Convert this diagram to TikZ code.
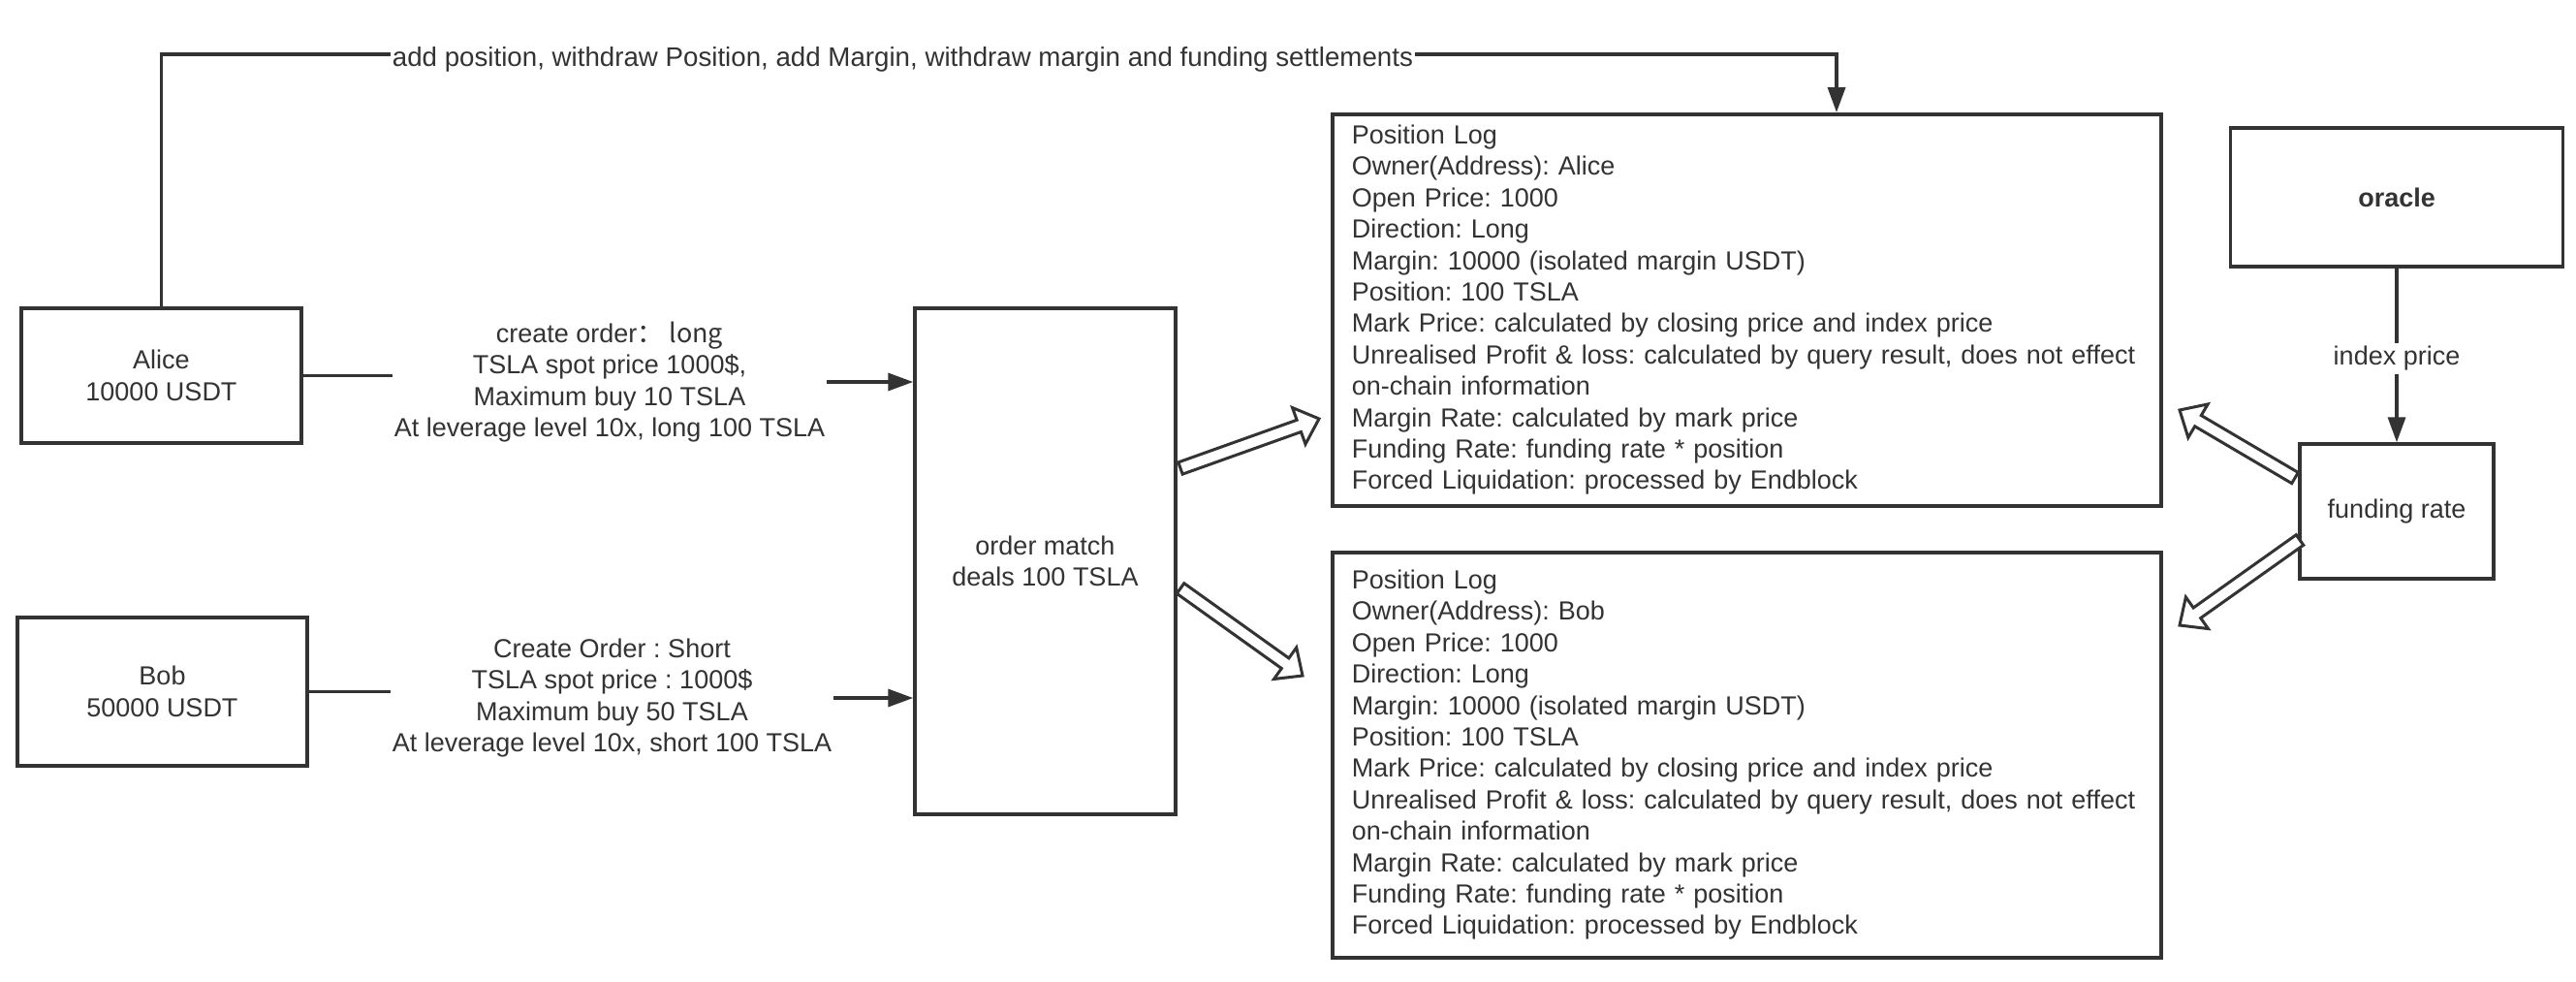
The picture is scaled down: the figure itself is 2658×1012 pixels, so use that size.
\documentclass[tikz,border=0pt]{standalone}
\usepackage{fontspec}
\setmainfont{Liberation Sans}
\newfontfamily\cjk{Noto Sans CJK SC}
\usetikzlibrary{arrows.meta,calc}
\definecolor{ink}{HTML}{333333}
\newcommand\dfont{\fontsize{27}{32.4}\selectfont}
\newcommand\flexarrow[2]{%
  \coordinate (fn) at ($(#2)!22pt!(#1)$);
  \draw[hollow] ($(#1)!6.5pt!90:(#2)$) -- ($(fn)!6.5pt!90:(#2)$) -- ($(fn)!20pt!90:(#2)$) -- (#2)
    -- ($(fn)!20pt!-90:(#2)$) -- ($(fn)!6.5pt!-90:(#2)$) -- ($(#1)!6.5pt!-90:(#2)$) -- cycle;}
\frenchspacing
\begin{document}
\begin{tikzpicture}[x=1pt,y=-1pt,
  box/.style={draw=ink, line width=3.5pt, text=ink, font=\dfont, inner sep=0pt, align=center},
  lbl/.style={text=ink, font=\dfont, fill=white, inner xsep=2pt, inner ysep=3pt, align=center},
  conn/.style={draw=ink, line width=3.5pt},
  arr/.style={conn, -{Triangle[length=26pt,width=18pt]}},
  hollow/.style={draw=ink, line width=3pt, fill=white, line join=miter},
  logbox/.style={box, anchor=north west, minimum width=855pt, text width=815pt, inner xsep=20pt, align=left}]
\fill[white] (0,0) rectangle (2658,1012);
\useasboundingbox (0,0) rectangle (2658,1012);

% boxes
\node[box, minimum width=289pt, minimum height=139pt] (alice) at (166.5,387.5) {Alice\\10000 USDT};
\node[box, minimum width=299pt, minimum height=153pt] (bob) at (167.5,713.5) {Bob\\50000 USDT};
\node[box, minimum width=269pt, minimum height=522pt] (match) at (1078.5,579) {order match\\deals 100 TSLA};
\node[box, minimum width=343pt, minimum height=143pt, font=\dfont\bfseries] (oracle) at (2473,203.5) {oracle};
\node[box, minimum width=200pt, minimum height=139pt] (funding) at (2473,527.5) {funding rate};

\node[logbox, minimum height=404pt] (plog1) at (1373,116) {Position Log\\
Owner(Address): Alice\\
Open Price: 1000\\
Direction: Long\\
Margin: 10000 (isolated margin USDT)\\
Position: 100 TSLA\\
Mark Price: calculated by closing price and index price\\
Unrealised Profit \& loss: calculated by query result, does not effect\\
on-chain information\\
Margin Rate: calculated by mark price\\
Funding Rate: funding rate * position\\
Forced Liquidation: processed by Endblock};

\node[logbox, minimum height=418pt] (plog2) at (1373,568) {Position Log\\
Owner(Address): Bob\\
Open Price: 1000\\
Direction: Long\\
Margin: 10000 (isolated margin USDT)\\
Position: 100 TSLA\\
Mark Price: calculated by closing price and index price\\
Unrealised Profit \& loss: calculated by query result, does not effect\\
on-chain information\\
Margin Rate: calculated by mark price\\
Funding Rate: funding rate * position\\
Forced Liquidation: processed by Endblock};

% labels
\node[lbl, font=\fontsize{27.7}{33}\selectfont] (toplbl) at (931.5,61) {add position, withdraw Position, add Margin, withdraw margin and funding settlements};
\node[lbl] (lblA) at (629,394) {create order\cjk{：} long\\TSLA spot price 1000\$,\\Maximum buy 10 TSLA\\At leverage level 10x, long 100 TSLA};
\node[lbl] (lblB) at (631.5,720) {Create Order : Short\\TSLA spot price : 1000\$\\Maximum buy 50 TSLA\\At leverage level 10x, short 100 TSLA};
\node[lbl] (ip) at (2473,370) {index price};

% helper coordinates
\coordinate (topline) at (0,56);
\coordinate (yA) at (0,394);
\coordinate (yB) at (0,720);
\coordinate (pin) at ($(plog1.north west)+(522,0)$);

% connectors
\draw[conn] (alice.north) -- (alice.north |- topline) -- (toplbl.west |- topline);
\draw[arr] (toplbl.east |- topline) -| (pin);
\draw[conn] (alice.east) -- (lblA.west |- alice.east);
\draw[arr] (lblA.east |- yA) -- (match.west |- yA);
\draw[conn] (bob.east) -- (lblB.west |- bob.east);
\draw[arr] (lblB.east |- yB) -- (match.west |- yB);
\draw[conn] (oracle.south) -- (ip.north);
\draw[arr] (ip.south) -- (funding.north);

% hollow arrows
\coordinate (t1) at (1218,483); \coordinate (h1) at (1361,432);
\coordinate (t2) at (1218,607); \coordinate (h2) at (1344,697);
\coordinate (t3) at (2368,493); \coordinate (h3) at (2249,423);
\coordinate (t4) at (2373,557); \coordinate (h4) at (2249,645);
\flexarrow{t1}{h1}
\flexarrow{t2}{h2}
\flexarrow{t3}{h3}
\flexarrow{t4}{h4}
\end{tikzpicture}
\end{document}
